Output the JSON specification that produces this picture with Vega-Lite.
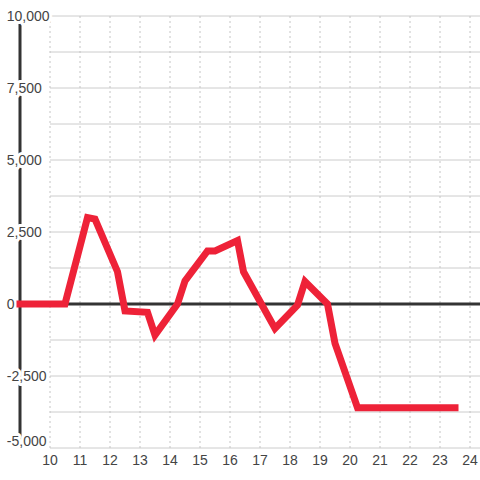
{
  "$schema": "https://vega.github.io/schema/vega-lite/v6.json",
  "width": 480,
  "height": 480,
  "autosize": {"type": "none"},
  "padding": 0,
  "background": "white",
  "config": {"view": {"stroke": null}},
  "datasets": {
    "hgrid": [{"v": -5000}, {"v": -3750}, {"v": -2500}, {"v": -1250}, {"v": 1250}, {"v": 2500}, {"v": 3750}, {"v": 5000}, {"v": 6250}, {"v": 7500}, {"v": 8750}, {"v": 10000}],
    "vgrid": [{"x": 10}, {"x": 11}, {"x": 12}, {"x": 13}, {"x": 14}, {"x": 15}, {"x": 16}, {"x": 17}, {"x": 18}, {"x": 19}, {"x": 20}, {"x": 21}, {"x": 22}, {"x": 23}, {"x": 24}],
    "ylab": [{"v": 10000, "t": "10,000"}, {"v": 7500, "t": "7,500"}, {"v": 5000, "t": "5,000"}, {"v": 2500, "t": "2,500"}, {"v": 0, "t": "0"}, {"v": -2500, "t": "-2,500"}],
    "ylab2": [{"v": -5000, "t": "-5,000"}],
    "series": [
      {"x": 9, "y": 0},
      {"x": 10.5, "y": 0},
      {"x": 11.25, "y": 3000},
      {"x": 11.5, "y": 2950},
      {"x": 12.25, "y": 1120},
      {"x": 12.5, "y": -240},
      {"x": 13.25, "y": -290},
      {"x": 13.5, "y": -1080},
      {"x": 14.25, "y": 0},
      {"x": 14.5, "y": 800},
      {"x": 15.25, "y": 1840},
      {"x": 15.5, "y": 1840},
      {"x": 16.25, "y": 2200},
      {"x": 16.45, "y": 1120},
      {"x": 17.5, "y": -850},
      {"x": 18.25, "y": -40},
      {"x": 18.5, "y": 780},
      {"x": 19.25, "y": 0},
      {"x": 19.5, "y": -1370},
      {"x": 20.25, "y": -3600},
      {"x": 23.5, "y": -3600}
    ]
  },
  "layer": [
    {
      "data": {"name": "hgrid"},
      "mark": {"type": "rule", "color": "#cccccc", "strokeWidth": 1},
      "encoding": {
        "y": {"field": "v", "type": "quantitative", "scale": {"domain": [-6111.1, 10555.6]}, "axis": null},
        "x": {"datum": 10, "type": "quantitative", "scale": {"domain": [8.3333, 24.3333]}, "axis": null},
        "x2": {"datum": 24.3333}
      }
    },
    {
      "data": {"name": "vgrid"},
      "mark": {"type": "rule", "color": "#c4c4c4", "strokeWidth": 1, "strokeDash": [2, 3]},
      "encoding": {
        "x": {"field": "x", "type": "quantitative", "scale": {"domain": [8.3333, 24.3333]}, "axis": null},
        "y": {"datum": -5000, "type": "quantitative", "scale": {"domain": [-6111.1, 10555.6]}, "axis": null},
        "y2": {"datum": 10000}
      }
    },
    {
      "data": {"values": [{}]},
      "mark": {"type": "rule", "color": "#333333", "strokeWidth": 3},
      "encoding": {
        "y": {"datum": 0, "type": "quantitative", "scale": {"domain": [-6111.1, 10555.6]}, "axis": null},
        "x": {"datum": 9, "type": "quantitative", "scale": {"domain": [8.3333, 24.3333]}, "axis": null},
        "x2": {"datum": 24.3333}
      }
    },
    {
      "data": {"values": [{}]},
      "mark": {"type": "rule", "color": "#333333", "strokeWidth": 3},
      "encoding": {
        "x": {"datum": 9, "type": "quantitative", "scale": {"domain": [8.3333, 24.3333]}, "axis": null},
        "y": {"datum": -5000, "type": "quantitative", "scale": {"domain": [-6111.1, 10555.6]}, "axis": null},
        "y2": {"datum": 10000}
      }
    },
    {
      "data": {"name": "ylab"},
      "mark": {"type": "text", "align": "left", "baseline": "middle", "dy": 1, "font": "Liberation Sans", "fontSize": 14, "color": "#444444", "stroke": "white", "strokeWidth": 6, "strokeJoin": "round"},
      "encoding": {
        "x": {"datum": 8.56, "type": "quantitative", "scale": {"domain": [8.3333, 24.3333]}, "axis": null},
        "y": {"field": "v", "type": "quantitative", "scale": {"domain": [-6111.1, 10555.6]}, "axis": null},
        "text": {"field": "t"}
      }
    },
    {
      "data": {"name": "ylab"},
      "mark": {"type": "text", "align": "left", "baseline": "middle", "dy": 1, "font": "Liberation Sans", "fontSize": 14, "color": "#444444"},
      "encoding": {
        "x": {"datum": 8.56, "type": "quantitative", "scale": {"domain": [8.3333, 24.3333]}, "axis": null},
        "y": {"field": "v", "type": "quantitative", "scale": {"domain": [-6111.1, 10555.6]}, "axis": null},
        "text": {"field": "t"}
      }
    },
    {
      "data": {"name": "ylab2"},
      "mark": {"type": "text", "align": "left", "baseline": "middle", "dy": -6, "font": "Liberation Sans", "fontSize": 14, "color": "#444444", "stroke": "white", "strokeWidth": 6, "strokeJoin": "round"},
      "encoding": {
        "x": {"datum": 8.56, "type": "quantitative", "scale": {"domain": [8.3333, 24.3333]}, "axis": null},
        "y": {"field": "v", "type": "quantitative", "scale": {"domain": [-6111.1, 10555.6]}, "axis": null},
        "text": {"field": "t"}
      }
    },
    {
      "data": {"name": "ylab2"},
      "mark": {"type": "text", "align": "left", "baseline": "middle", "dy": -6, "font": "Liberation Sans", "fontSize": 14, "color": "#444444"},
      "encoding": {
        "x": {"datum": 8.56, "type": "quantitative", "scale": {"domain": [8.3333, 24.3333]}, "axis": null},
        "y": {"field": "v", "type": "quantitative", "scale": {"domain": [-6111.1, 10555.6]}, "axis": null},
        "text": {"field": "t"}
      }
    },
    {
      "data": {"name": "vgrid"},
      "mark": {"type": "text", "align": "center", "baseline": "middle", "font": "Liberation Sans", "fontSize": 14, "color": "#444444"},
      "encoding": {
        "x": {"field": "x", "type": "quantitative", "scale": {"domain": [8.3333, 24.3333]}, "axis": null},
        "y": {"datum": -5450, "type": "quantitative", "scale": {"domain": [-6111.1, 10555.6]}, "axis": null},
        "text": {"field": "x", "type": "quantitative"}
      }
    },
    {
      "data": {"name": "series"},
      "mark": {"type": "line", "color": "#ee2238", "strokeWidth": 7, "strokeCap": "square"},
      "encoding": {
        "x": {"field": "x", "type": "quantitative", "scale": {"domain": [8.3333, 24.3333]}, "axis": null},
        "y": {"field": "y", "type": "quantitative", "scale": {"domain": [-6111.1, 10555.6]}, "axis": null}
      }
    }
  ]
}
